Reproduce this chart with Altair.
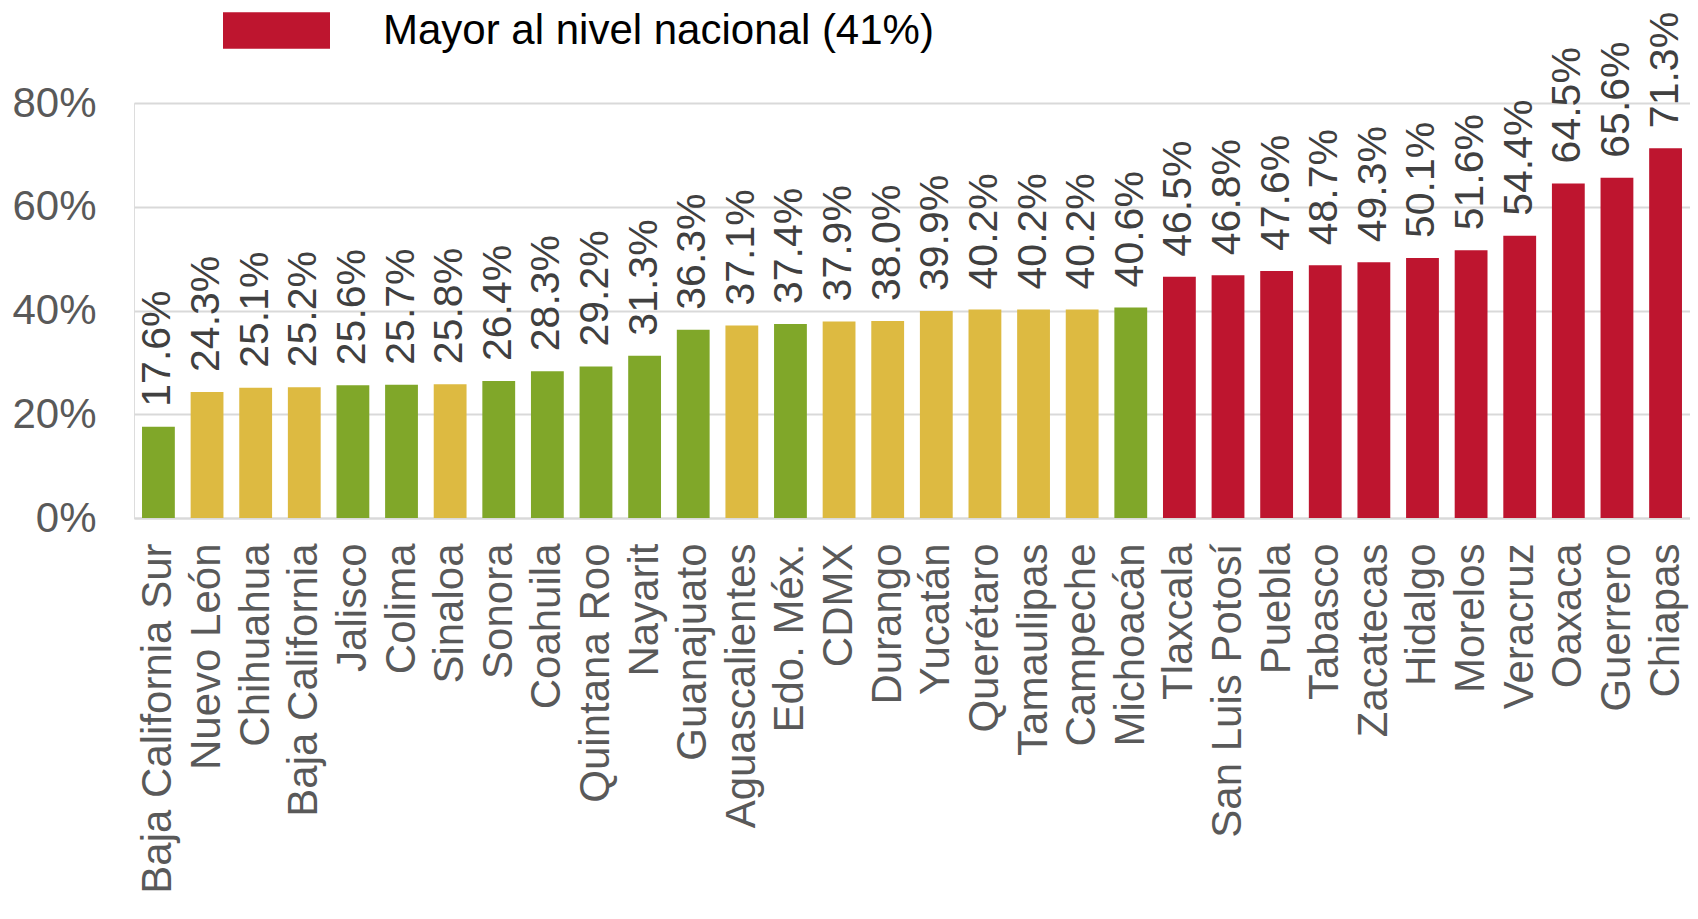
import altair as alt
import pandas as pd

estados = [
    "Baja California Sur", "Nuevo León", "Chihuahua", "Baja California", "Jalisco",
    "Colima", "Sinaloa", "Sonora", "Coahuila", "Quintana Roo", "Nayarit",
    "Guanajuato", "Aguascalientes", "Edo. Méx.", "CDMX", "Durango", "Yucatán",
    "Querétaro", "Tamaulipas", "Campeche", "Michoacán", "Tlaxcala",
    "San Luis Potosí", "Puebla", "Tabasco", "Zacatecas", "Hidalgo", "Morelos",
    "Veracruz", "Oaxaca", "Guerrero", "Chiapas",
]
valores = [
    17.6, 24.3, 25.1, 25.2, 25.6, 25.7, 25.8, 26.4, 28.3, 29.2, 31.3,
    36.3, 37.1, 37.4, 37.9, 38.0, 39.9, 40.2, 40.2, 40.2, 40.6, 46.5,
    46.8, 47.6, 48.7, 49.3, 50.1, 51.6, 54.4, 64.5, 65.6, 71.3,
]
ROJO = "Mayor al nivel nacional (41%)"
grupos = [
    "verde", "amarillo", "amarillo", "amarillo", "verde", "verde", "amarillo",
    "verde", "verde", "verde", "verde", "verde", "amarillo", "verde",
    "amarillo", "amarillo", "amarillo", "amarillo", "amarillo", "amarillo",
    "verde", ROJO, ROJO, ROJO, ROJO, ROJO, ROJO, ROJO, ROJO, ROJO, ROJO, ROJO,
]
dominio_grupos = ["verde", "amarillo", ROJO]
colores = ["#80A729", "#DDBA41", "#BE152F"]
ticks_y = [0, 20, 40, 60, 80]

df = pd.DataFrame({"estado": estados, "valor": valores, "grupo": grupos})

FONT = "Liberation Sans"

x = alt.X(
    "estado:N",
    sort=estados,
    title=None,
    scale=alt.Scale(paddingInner=0.325, paddingOuter=0.165),
    axis=alt.Axis(
        labelAngle=270,
        labelFontSize=42,
        labelColor="#595959",
        labelFont=FONT,
        labelPadding=25,
        ticks=False,
        tickSize=0,
        domainColor="#D9D9D9",
        domainWidth=2,
        labelLimit=1000,
    ),
)
y = alt.Y(
    "valor:Q",
    title=None,
    scale=alt.Scale(domain=[0, 80], nice=False),
    axis=alt.Axis(
        values=ticks_y,
        labelExpr="datum.value + '%'",
        labelFontSize=42,
        labelColor="#595959",
        labelFont=FONT,
        labelPadding=38,
        ticks=False,
        tickSize=0,
        domain=False,
        gridColor="#D9D9D9",
        gridWidth=2,
    ),
)

color = alt.Color(
    "grupo:N",
    scale=alt.Scale(domain=dominio_grupos, range=colores),
    legend=alt.Legend(
        values=[ROJO],
        title=None,
        orient="none",
        legendX=89,
        legendY=-126,
        padding=0,
        symbolType="M-1,-0.34H1V0.34H-1Z",
        symbolSize=11449,
        symbolStrokeWidth=0,
        labelFontSize=42,
        labelColor="#000000",
        labelFont=FONT,
        labelOffset=53,
        labelLimit=1500,
    ),
)

bars = alt.Chart(df).mark_bar().encode(x=x, y=y, color=color)

labels = alt.Chart(df).transform_calculate(
    etiqueta="format(datum.valor, '.1f') + '%'"
).mark_text(
    angle=270,
    align="left",
    baseline="middle",
    dx=20,
    fontSize=41,
    font=FONT,
    color="#404040",
).encode(x=alt.X("estado:N", sort=estados), y="valor:Q", text="etiqueta:N")

chart = (
    alt.layer(bars, labels)
    .properties(
        width=1556,
        height=415,
        autosize=alt.AutoSizeParams(type="none"),
        padding={"left": 126, "top": 95, "right": 0, "bottom": 385},
    )
    .configure_view(stroke=None)
    .configure(font=FONT)
)

chart.save("out.html", embed_options={"renderer": "svg", "actions": False})
